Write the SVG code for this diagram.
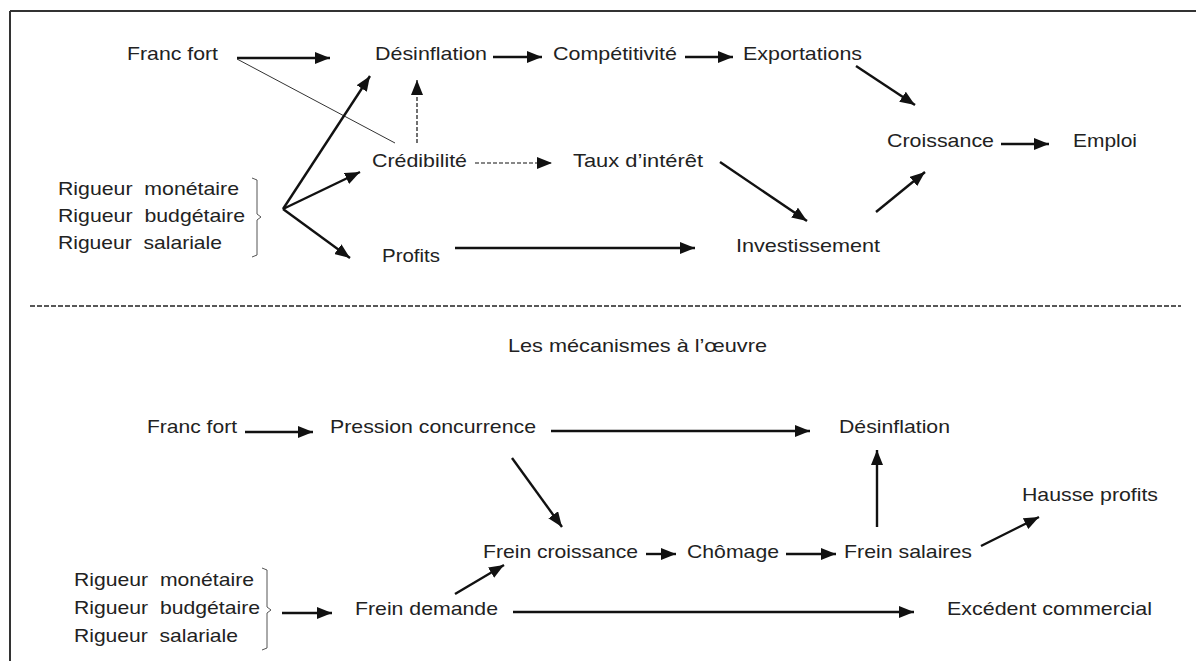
<svg xmlns="http://www.w3.org/2000/svg" width="1196" height="661" viewBox="0 0 1196 661">
<style>
text{font-family:"Liberation Sans",Arial,sans-serif;font-size:19px;fill:#222;}
.a{stroke:#111;stroke-width:2.4;fill:none;marker-end:url(#ah);}
.d{stroke:#111;stroke-width:1.2;fill:none;stroke-dasharray:4,2;marker-end:url(#ah);}
.t{stroke:#333;stroke-width:1;fill:none;}
.br{stroke:#555;stroke-width:1;fill:none;}
</style>
<defs>
<marker id="ah" markerUnits="userSpaceOnUse" markerWidth="15" markerHeight="12" viewBox="0 0 15 12" refX="15" refY="6" orient="auto">
<path d="M0,0 L15,6 L0,12 z" fill="#111"/>
</marker>
</defs>
<rect width="1196" height="661" fill="#fff"/>
<g id="frame">
<line x1="10" y1="11" x2="1196" y2="11" stroke="#333" stroke-width="2"/>
<line x1="10" y1="11" x2="10" y2="661" stroke="#333" stroke-width="2"/>
<line x1="30" y1="306" x2="1181" y2="306" stroke="#222" stroke-width="1.4" stroke-dasharray="5,2"/>
</g>
<g id="connectors">
<line class="a" x1="237" y1="58" x2="330" y2="58"/>
<line class="a" x1="493" y1="57" x2="542" y2="57"/>
<line class="a" x1="685" y1="57" x2="733" y2="57"/>
<line class="a" x1="856" y1="66" x2="915" y2="105"/>
<line class="a" x1="1001" y1="144" x2="1049" y2="144"/>
<line class="a" x1="876" y1="212" x2="925" y2="172"/>
<line class="d" x1="475" y1="163" x2="552" y2="163"/>
<line class="a" x1="720" y1="162" x2="807" y2="221"/>
<line class="a" x1="455" y1="248" x2="695" y2="248"/>
<line class="t" x1="237" y1="59" x2="395" y2="143"/>
<line class="d" x1="417" y1="143" x2="417" y2="80"/>
<line class="a" x1="283" y1="209" x2="370" y2="76"/>
<line class="a" x1="283" y1="209" x2="360" y2="172"/>
<line class="a" x1="283" y1="209" x2="350" y2="258"/>
<path class="br" d="M252,178 L257,180 L257,214 L261,217 L257,220 L257,255 L252,257"/>
<line class="a" x1="245" y1="432" x2="313" y2="432"/>
<line class="a" x1="551" y1="431" x2="810" y2="431"/>
<line class="a" x1="877" y1="527" x2="877" y2="450"/>
<line class="a" x1="981" y1="546" x2="1039" y2="517"/>
<line class="a" x1="786" y1="554" x2="836" y2="554"/>
<line class="a" x1="646" y1="554" x2="676" y2="554"/>
<line class="a" x1="512" y1="458" x2="562" y2="527"/>
<line class="a" x1="455" y1="594" x2="504" y2="565"/>
<line class="a" x1="513" y1="612" x2="914" y2="612"/>
<line class="a" x1="282" y1="613" x2="332" y2="613"/>
<path class="br" d="M262,568 L267,570 L267,607 L271,610 L267,613 L267,648 L262,650"/>
</g>
<g id="n-francfort1"><text x="127" y="60" textLength="91" lengthAdjust="spacingAndGlyphs">Franc fort</text></g>
<g id="n-desinflation1"><text x="375" y="60" textLength="112" lengthAdjust="spacingAndGlyphs">Désinflation</text></g>
<g id="n-competitivite"><text x="553" y="60" textLength="124" lengthAdjust="spacingAndGlyphs">Compétitivité</text></g>
<g id="n-exportations"><text x="743" y="60" textLength="119" lengthAdjust="spacingAndGlyphs">Exportations</text></g>
<g id="n-croissance"><text x="887" y="147" textLength="107" lengthAdjust="spacingAndGlyphs">Croissance</text></g>
<g id="n-emploi"><text x="1073" y="147" textLength="64" lengthAdjust="spacingAndGlyphs">Emploi</text></g>
<g id="n-credibilite"><text x="372" y="167" textLength="95" lengthAdjust="spacingAndGlyphs">Crédibilité</text></g>
<g id="n-taux"><text x="573" y="167" textLength="130" lengthAdjust="spacingAndGlyphs">Taux d’intérêt</text></g>
<g id="n-investissement"><text x="736" y="252" textLength="144" lengthAdjust="spacingAndGlyphs">Investissement</text></g>
<g id="n-profits"><text x="382" y="262" textLength="58" lengthAdjust="spacingAndGlyphs">Profits</text></g>
<g id="n-rigueur1">
<text x="58" y="195" textLength="181" lengthAdjust="spacingAndGlyphs" xml:space="preserve">Rigueur  monétaire</text>
<text x="58" y="222" textLength="187" lengthAdjust="spacingAndGlyphs" xml:space="preserve">Rigueur  budgétaire</text>
<text x="58" y="249" textLength="164" lengthAdjust="spacingAndGlyphs" xml:space="preserve">Rigueur  salariale</text>
</g>
<g id="n-titre"><text x="508" y="352" textLength="259" lengthAdjust="spacingAndGlyphs">Les mécanismes à l’œuvre</text></g>
<g id="n-francfort2"><text x="147" y="433" textLength="90" lengthAdjust="spacingAndGlyphs">Franc fort</text></g>
<g id="n-pression"><text x="330" y="433" textLength="206" lengthAdjust="spacingAndGlyphs">Pression concurrence</text></g>
<g id="n-desinflation2"><text x="839" y="433" textLength="111" lengthAdjust="spacingAndGlyphs">Désinflation</text></g>
<g id="n-hausse"><text x="1022" y="501" textLength="136" lengthAdjust="spacingAndGlyphs">Hausse profits</text></g>
<g id="n-freincroissance"><text x="483" y="558" textLength="155" lengthAdjust="spacingAndGlyphs">Frein croissance</text></g>
<g id="n-chomage"><text x="687" y="558" textLength="92" lengthAdjust="spacingAndGlyphs">Chômage</text></g>
<g id="n-freinsalaires"><text x="844" y="558" textLength="128" lengthAdjust="spacingAndGlyphs">Frein salaires</text></g>
<g id="n-freindemande"><text x="355" y="615" textLength="143" lengthAdjust="spacingAndGlyphs">Frein demande</text></g>
<g id="n-excedent"><text x="947" y="615" textLength="205" lengthAdjust="spacingAndGlyphs">Excédent commercial</text></g>
<g id="n-rigueur2">
<text x="74" y="586" textLength="180" lengthAdjust="spacingAndGlyphs" xml:space="preserve">Rigueur  monétaire</text>
<text x="74" y="614" textLength="186" lengthAdjust="spacingAndGlyphs" xml:space="preserve">Rigueur  budgétaire</text>
<text x="74" y="642" textLength="164" lengthAdjust="spacingAndGlyphs" xml:space="preserve">Rigueur  salariale</text>
</g>
</svg>
